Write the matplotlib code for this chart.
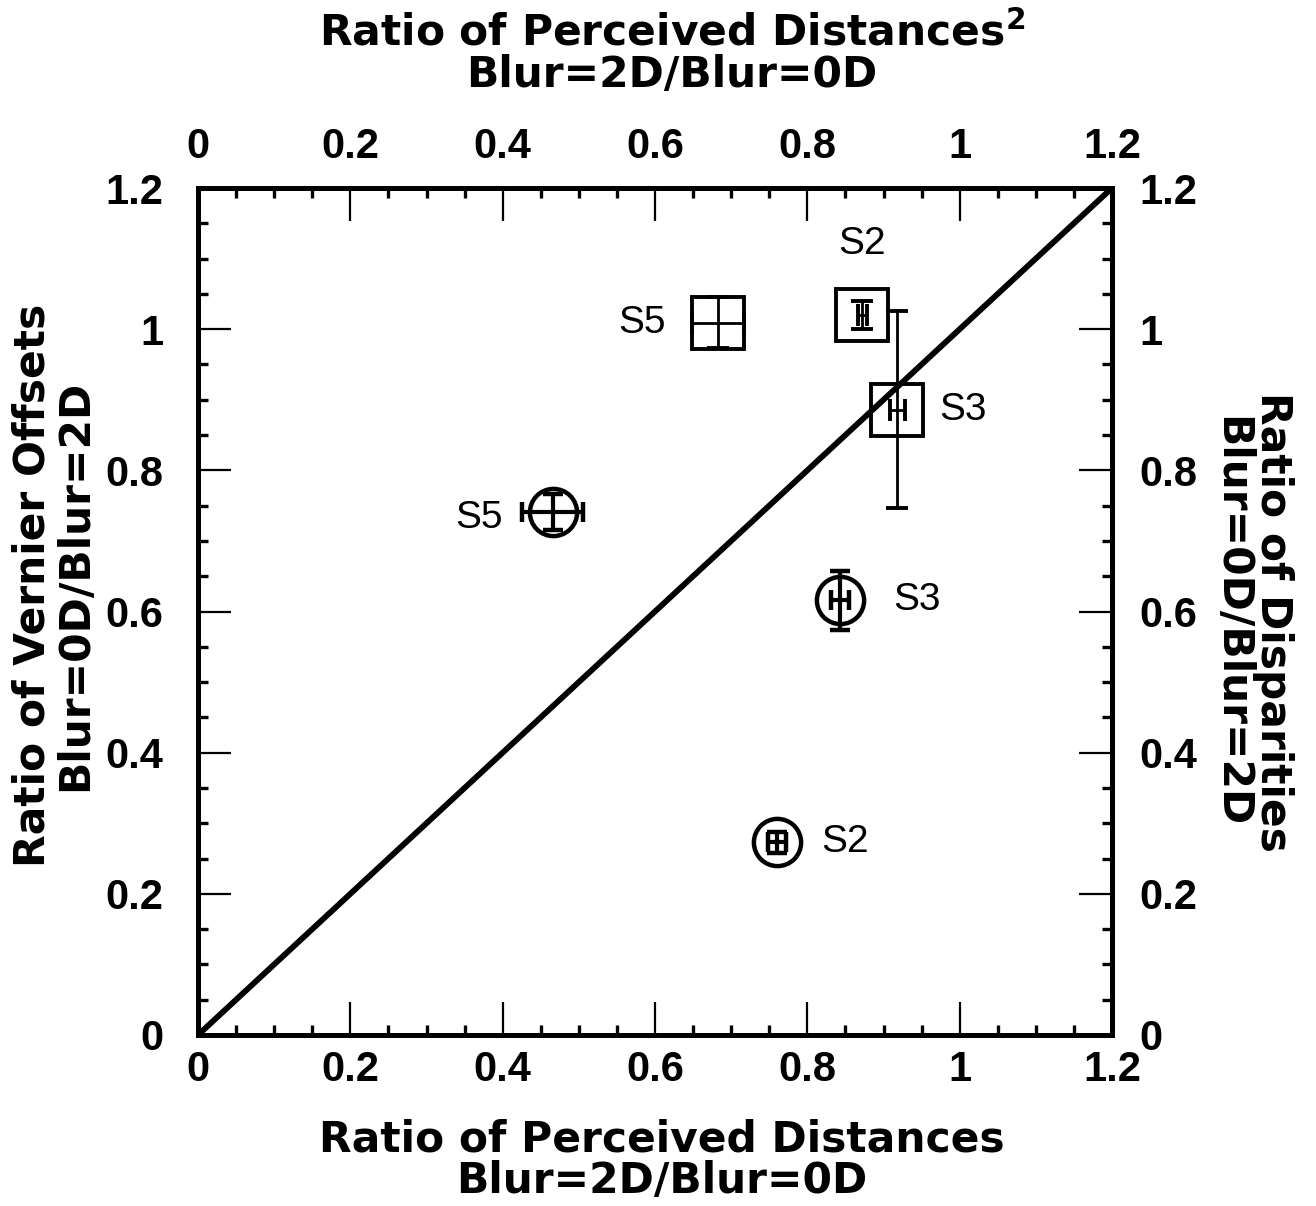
import matplotlib
matplotlib.use("Agg")
import matplotlib.pyplot as plt
from matplotlib.ticker import MultipleLocator

plt.rcParams['font.family'] = ['Liberation Sans', 'DejaVu Sans']
plt.rcParams['mathtext.fontset'] = 'dejavusans'

# Squares: Vernier-offset ratio vs perceived-distance ratio
sq_labels = ["S5", "S2", "S3"]
sq_x = [0.683, 0.872, 0.918]
sq_y = [1.009, 1.020, 0.886]
sq_xerr = [0.034, 0.006, 0.010]
sq_yerr = [0.036, 0.020, 0.140]

# Circles: disparity ratio vs perceived-distance ratio squared
ci_labels = ["S5", "S3", "S2"]
ci_x = [0.466, 0.843, 0.760]
ci_y = [0.741, 0.616, 0.273]
ci_xerr = [0.040, 0.012, 0.012]
ci_yerr = [0.025, 0.042, 0.015]

ticks = [0, 0.2, 0.4, 0.6, 0.8, 1, 1.2]
tick_labels = ["0", "0.2", "0.4", "0.6", "0.8", "1", "1.2"]

W, H = 1316, 1206
fig = plt.figure(figsize=(W / 100, H / 100), dpi=100)
L, R, T, B = 198, 1112, 188, 1035
ax = fig.add_axes([L / W, 1 - B / H, (R - L) / W, (B - T) / H])
ax.set_xlim(0, 1.2)
ax.set_ylim(0, 1.2)

ax.plot([0, 1.2], [0, 1.2], color='black', lw=4.2, solid_capstyle='butt', zorder=2)

ax.errorbar(sq_x, sq_y, xerr=sq_xerr, yerr=sq_yerr, fmt='s', ms=37,
            mfc='none', mec='black', mew=2.8, ecolor='black', elinewidth=2,
            capsize=8, capthick=2.5, zorder=3)
ax.errorbar(ci_x, ci_y, xerr=ci_xerr, yerr=ci_yerr, fmt='o', ms=34,
            mfc='none', mec='black', mew=3.2, ecolor='black', elinewidth=3,
            capsize=7, capthick=3, zorder=3)

lab_font = dict(fontsize=28, family=['Liberation Sans', 'DejaVu Sans'])
sq_offsets = [(-38, 0, 'right', 'center'), (0, 38, 'center', 'bottom'), (30, 0, 'left', 'center')]
for lab, x, y, (dx, dy, ha, va) in zip(sq_labels, sq_x, sq_y, sq_offsets):
    ax.annotate(lab, (x, y), xytext=(dx, dy), textcoords='offset points',
                ha=ha, va=va, **lab_font)
ci_offsets = [(-36, -4, 'right', 'center'), (38, 0, 'left', 'center'), (32, 0, 'left', 'center')]
for lab, x, y, (dx, dy, ha, va) in zip(ci_labels, ci_x, ci_y, ci_offsets):
    ax.annotate(lab, (x, y), xytext=(dx, dy), textcoords='offset points',
                ha=ha, va=va, **lab_font)

for s in ax.spines.values():
    s.set_linewidth(3.6)


def style_ticks(axis_obj, pad):
    axis_obj.set_tick_params(which='major', direction='in', length=24, width=1.6,
                             labelsize=30, pad=pad)
    axis_obj.set_tick_params(which='minor', direction='in', length=7, width=2.4)


ax.set_xticks(ticks)
ax.set_xticklabels(tick_labels)
ax.set_yticks(ticks)
ax.set_yticklabels(tick_labels)
ax.xaxis.set_minor_locator(MultipleLocator(0.05))
ax.yaxis.set_minor_locator(MultipleLocator(0.05))
ax.tick_params(top=False, right=False)
style_ticks(ax.xaxis, 11)
style_ticks(ax.yaxis, 25)

secx = ax.secondary_xaxis('top')
secx.set_xticks(ticks)
secx.set_xticklabels(tick_labels)
secx.xaxis.set_minor_locator(MultipleLocator(0.05))
style_ticks(secx.xaxis, 15)
secx.spines['top'].set_linewidth(3.6)

secy = ax.secondary_yaxis('right')
secy.set_yticks(ticks)
secy.set_yticklabels(tick_labels)
secy.yaxis.set_minor_locator(MultipleLocator(0.05))
style_ticks(secy.yaxis, 20)
secy.spines['right'].set_linewidth(3.6)

for a in (ax, secx, secy):
    for lab in a.get_xticklabels() + a.get_yticklabels():
        lab.set_fontweight('bold')

title_font = dict(fontsize=30.5, fontweight='bold', family=['DejaVu Sans'],
                  linespacing=1.0, multialignment='center')
fig.text(662 / W, 1 - 1160 / H, "Ratio of Perceived Distances\nBlur=2D/Blur=0D",
         ha='center', va='center', **title_font)
fig.text(672 / W, 1 - 54 / H, "Ratio of Perceived Distances$^{\\mathbf{2}}$\nBlur=2D/Blur=0D",
         ha='center', va='center', **title_font)
fig.text(54 / W, 1 - 585 / H, "Ratio of Vernier Offsets\nBlur=0D/Blur=2D",
         ha='center', va='center', rotation=90, **title_font)
fig.text(1252 / W, 1 - 622 / H, "Ratio of Disparities\nBlur=0D/Blur=2D",
         ha='center', va='center', rotation=-90, **title_font)

fig.savefig("out.png", dpi=100)
